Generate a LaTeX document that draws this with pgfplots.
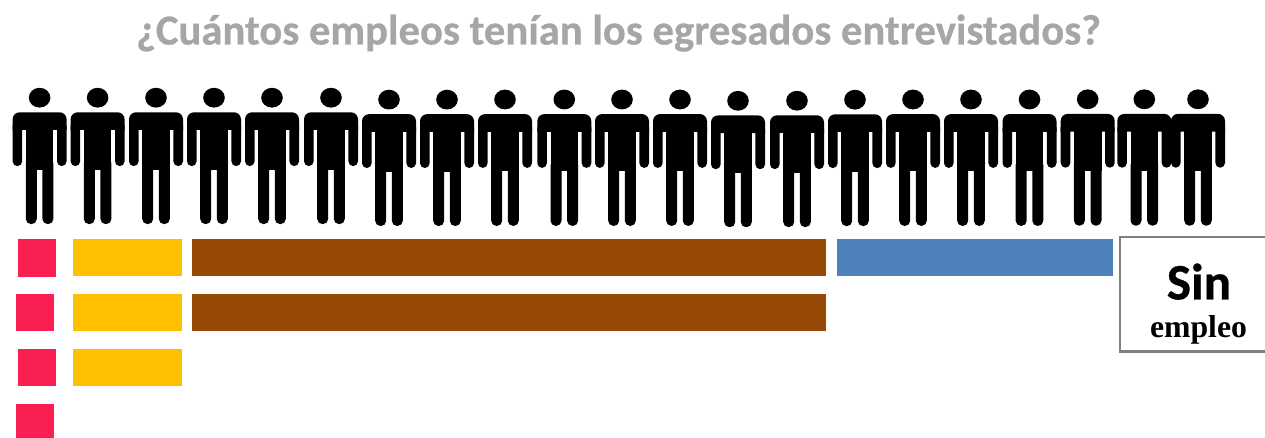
\documentclass[border=0pt]{standalone}
\usepackage{fontspec}
\setmainfont{Carlito}
\newfontfamily\gruesa{Carlito Bold}[FakeBold=0.6]
\newfontfamily\serifbold{Liberation Serif}[BoldFont={* Bold}]
\usepackage{pgfplots}
\pgfplotsset{compat=1.18}
\usepackage{pgfplotstable}

\definecolor{titlegray}{HTML}{A6A6A6}
\definecolor{rosa}{HTML}{F91F53}
\definecolor{amarillo}{HTML}{FFC000}
\definecolor{cafe}{HTML}{984807}
\definecolor{azul}{HTML}{4F81BD}
\definecolor{marco}{HTML}{7F7F7F}

% Rectangle with rounded upper corners: x0, y0 (lower), x1, y1 (upper), radius
\newcommand{\pgtop}[5]{%
  \pgfpathmoveto{\pgfpointxy{#1}{#2}}%
  \pgfpathlineto{\pgfpointxy{#1}{#4-#5}}%
  \pgfpatharc{180}{90}{#5*0.75pt}%
  \pgfpathlineto{\pgfpointxy{#3-#5}{#4}}%
  \pgfpatharc{90}{0}{#5*0.75pt}%
  \pgfpathlineto{\pgfpointxy{#3}{#2}}%
  \pgfpathclose
}
% Rectangle with rounded lower corners: x0, y0 (lower), x1, y1 (upper), radius
\newcommand{\pgbot}[5]{%
  \pgfpathmoveto{\pgfpointxy{#1}{#4}}%
  \pgfpathlineto{\pgfpointxy{#1}{#2+#5}}%
  \pgfpatharc{180}{270}{#5*0.75pt}%
  \pgfpathlineto{\pgfpointxy{#3-#5}{#2}}%
  \pgfpatharc{270}{360}{#5*0.75pt}%
  \pgfpathlineto{\pgfpointxy{#3}{#4}}%
  \pgfpathclose
}

% Standing figure; the mark's origin is the centre of the head, one unit is one pixel of the page
\pgfdeclareplotmark{persona}{%
  \pgfsetxvec{\pgfpoint{0.75pt}{0pt}}%
  \pgfsetyvec{\pgfpoint{0pt}{0.75pt}}%
  \pgfpathellipse{\pgfpointxy{0}{0}}{\pgfpointxy{10.8}{0}}{\pgfpointxy{0}{9.9}}%
  \pgfusepathqfill
  \pgtop{-27}{-32.3}{27}{-14.6}{7}\pgfusepathqfill
  \pgbot{-27}{-68.4}{-17.4}{-28}{4.8}\pgfusepathqfill
  \pgbot{17.4}{-68.4}{27}{-28}{4.8}\pgfusepathqfill
  \pgfpathrectangle{\pgfpointxy{-13.8}{-72}}{\pgfpointxy{27.6}{50}}\pgfusepathqfill
  \pgbot{-13.8}{-126.4}{-2.8}{-65}{5.2}\pgfusepathqfill
  \pgbot{2.8}{-126.4}{13.8}{-65}{5.2}\pgfusepathqfill
}

% Head centres of the row of figures
\pgfplotstableread{
x y
39.6 97.7
97.6 97.7
156 97.7
214 97.7
272 97.7
331 97.7
389 99.6
447 99.6
505 99.5
564.3 99.5
622 99.5
680 99.5
738 100.8
797 100.7
855 99.7
913 99.5
971 99.5
1029.5 99.5
1087.7 99.3
1144.3 99.3
1198 99.3
}\personas

\begin{document}
\begin{tikzpicture}
\path[use as bounding box] (0,0) rectangle (948.75pt,328.5pt);
\begin{axis}[
  at={(0,0)}, anchor=south west,
  width=948.75pt, height=328.5pt, scale only axis,
  hide axis,
  xmin=0, xmax=1265, ymin=0, ymax=438, y dir=reverse,
  clip=true,
]
% Figures
\addplot[only marks, mark=persona, mark options={fill=black, draw=none}, color=black] table[x=x, y=y] {\personas};

% Rose blocks
\addplot[fill=rosa, draw=none] coordinates {(17.5,239.5) (56,239.5) (56,277) (17.5,277)} -- cycle;
\addplot[fill=rosa, draw=none] coordinates {(16,294) (54,294) (54,331.5) (16,331.5)} -- cycle;
\addplot[fill=rosa, draw=none] coordinates {(17.5,349.5) (56,349.5) (56,386.5) (17.5,386.5)} -- cycle;
\addplot[fill=rosa, draw=none] coordinates {(16,404.5) (54,404.5) (54,438) (16,438)} -- cycle;

% Yellow bars
\addplot[fill=amarillo, draw=none] coordinates {(73,239) (182,239) (182,276.2) (73,276.2)} -- cycle;
\addplot[fill=amarillo, draw=none] coordinates {(73,293.8) (182,293.8) (182,331) (73,331)} -- cycle;
\addplot[fill=amarillo, draw=none] coordinates {(73,349.5) (182,349.5) (182,386.5) (73,386.5)} -- cycle;

% Brown bars
\addplot[fill=cafe, draw=none] coordinates {(191.5,239) (826,239) (826,276.2) (191.5,276.2)} -- cycle;
\addplot[fill=cafe, draw=none] coordinates {(191.5,293.8) (826,293.8) (826,331) (191.5,331)} -- cycle;

% Blue bar
\addplot[fill=azul, draw=none] coordinates {(837,239) (1113,239) (1113,276.2) (837,276.2)} -- cycle;

% Frame of the last category
\addplot[draw=marco, line width=1.9pt, fill=white] coordinates {(1120,237) (1270,237) (1270,351.5) (1120,351.5)} -- cycle;

\node[anchor=base, text=titlegray, font=\gruesa\fontsize{32pt}{34pt}\selectfont, inner sep=0pt]
  at (axis cs:618.5,44.5) {¿Cuántos empleos tenían los egresados entrevistados?};
\node[anchor=base, text=black, font=\gruesa\fontsize{38.4pt}{40pt}\selectfont, inner sep=0pt]
  at (axis cs:1199,299.5) {Sin};
\node[anchor=base, text=black, font=\serifbold\fontsize{23.8pt}{25pt}\selectfont\bfseries, inner sep=0pt]
  at (axis cs:1198.5,338) {empleo};
\end{axis}
\end{tikzpicture}
\end{document}
